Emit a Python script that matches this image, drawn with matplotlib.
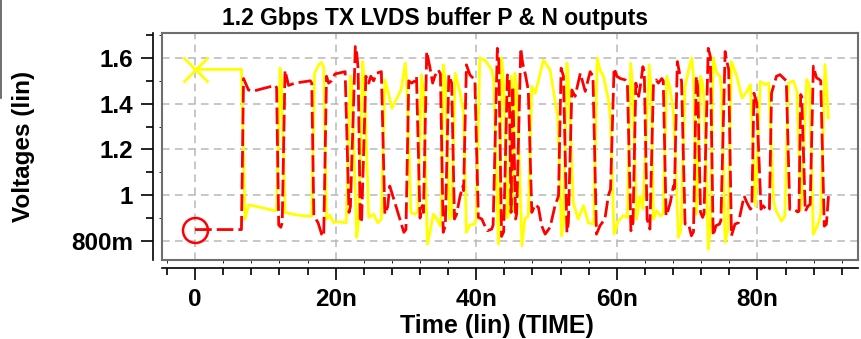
import matplotlib
matplotlib.use("Agg")
from matplotlib import pyplot as plt
from matplotlib.ticker import FixedLocator, MultipleLocator, FixedFormatter
from matplotlib.lines import Line2D

# red (dashed) trace: time in ns, voltage in V
red_t = [0.0, 6.6, 6.9, 7.6, 8.3, 9.5, 11.4, 11.6, 11.9, 12.2, 12.4, 12.8, 13.3, 14.2, 16.4, 16.6,
         16.9, 17.5, 18.0, 18.3, 18.7, 19.0, 19.4, 19.9, 21.35, 21.9, 22.1, 22.8, 23.0, 23.2, 23.5,
         23.7, 24.3, 24.7, 25.0, 25.4, 25.8, 26.5, 27.0, 27.4, 27.7, 28.4, 29.2, 29.7, 30.0, 30.4,
         30.8, 31.3, 31.5, 32.0, 32.3, 32.5, 32.95, 33.4, 33.8, 34.1, 34.6, 34.9, 35.3, 35.6, 36.1,
         36.5, 36.9, 37.2, 37.7, 38.1, 38.2, 38.6, 39.1, 39.8, 40.3, 40.8, 41.1, 41.6, 42.2, 42.4,
         43.0, 43.2, 43.6, 43.9, 44.43, 44.67, 44.95, 45.2, 45.6, 45.75, 46.33, 46.6, 47.0, 47.4,
         47.9, 48.4, 48.85, 49.3, 49.8, 50.5, 51.2, 51.7, 52.07, 52.4, 52.9, 53.1, 53.6, 54.06,
         54.8, 55.5, 56.2, 56.6, 57.1, 57.6, 58.3, 58.8, 59.1, 59.6, 60.0, 60.5, 61.2, 61.5, 62.0,
         62.3, 62.7, 63.1, 63.4, 63.7, 63.9, 64.3, 64.7, 65.2, 65.6, 65.9, 66.4, 66.6, 67.0, 67.2,
         67.6, 68.04, 68.2, 68.6, 69.0, 69.2, 69.7, 70.2, 70.6, 70.9, 71.3, 71.5, 71.9, 72.2, 72.4,
         73.0, 73.3, 73.7, 74.1, 74.6, 74.8, 75.4, 75.6, 75.9, 76.3, 76.8, 77.3, 77.7, 78.1, 78.5,
         79.0, 79.2, 79.5, 79.9, 80.5, 80.8, 81.4, 81.7, 82.0, 82.7, 83.2, 83.9, 84.1, 84.6, 85.3,
         85.7, 85.9, 86.15, 86.3, 86.8, 87.2, 87.5, 87.95, 88.4, 88.8, 89.0, 89.5, 89.8, 90.1]
red_v = [0.85, 0.85, 1.51, 1.46, 1.455, 1.465, 1.48, 1.47, 0.87, 0.86, 0.88, 1.545, 1.48, 1.49, 1.50, 1.49,
         0.91, 0.88, 0.83, 0.82, 1.52, 1.49, 1.50, 1.53, 1.54, 0.925, 0.95, 1.65, 1.62, 1.55, 0.88,
         0.895, 1.52, 1.49, 1.52, 1.50, 1.533, 1.54, 0.917, 0.95, 1.04, 0.97, 0.888, 0.838, 0.85, 1.50,
         1.49, 1.50, 1.52, 0.90, 0.954, 0.925, 1.628, 1.56, 1.49, 1.52, 1.548, 1.53, 0.838, 0.867, 1.526,
         1.49, 0.896, 0.917, 0.997, 1.04, 1.02, 1.57, 1.526, 1.504, 0.903, 0.896, 0.874, 0.845, 0.852, 0.87,
         1.642, 1.59, 0.82, 0.84, 1.526, 1.50, 0.925, 1.475, 0.896, 0.92, 1.642, 1.577, 1.526, 1.46,
         0.925, 0.96, 0.946, 0.867, 0.83, 0.86, 0.954, 0.997, 1.555, 1.52, 0.838, 0.88, 1.46, 1.432,
         1.533, 1.454, 1.54, 1.52, 0.83, 0.867, 0.896, 1.0, 1.026, 1.555, 1.52, 1.51, 1.504, 1.49, 0.845,
         0.88, 1.49, 1.432, 1.49, 1.562, 1.54, 0.896, 0.852, 1.48, 1.504, 1.49, 1.51, 1.50, 0.91, 0.925,
         0.968, 1.04, 1.03, 1.584, 1.52, 1.50, 0.874, 0.874, 0.823, 0.84, 1.52, 1.475, 0.925, 0.903, 0.92,
         1.642, 1.606, 0.823, 0.867, 0.874, 0.89, 1.628, 1.59, 1.55, 0.823, 0.874, 0.88, 0.939, 0.997, 0.968,
         0.939, 0.95, 1.446, 1.403, 0.939, 0.954, 0.932, 0.94, 1.446, 1.52, 1.527, 1.506, 1.50, 0.938, 0.938,
         0.927, 0.93, 1.44, 1.43, 0.93, 0.953, 0.96, 1.564, 1.513, 1.506, 1.50, 0.865, 0.873, 0.996]

# yellow (solid) trace
yel_t = [0.0, 6.6, 7.1, 7.6, 8.3, 11.4, 11.6, 12.1, 12.3, 12.8, 14.2, 16.4, 16.6, 17.0, 17.6, 18.0,
         18.3, 18.7, 19.2, 19.7, 20.2, 21.5, 22.1, 22.3, 23.0, 23.3, 23.85, 24.1, 24.7, 25.4, 26.0,
         26.5, 27.0, 27.5, 28.0, 28.6, 29.3, 29.9, 30.1, 30.7, 31.3, 31.7, 32.2, 32.5, 33.05, 33.4,
         33.9, 34.4, 34.85, 35.0, 35.3, 35.6, 36.2, 36.5, 37.0, 37.7, 38.2, 38.6, 39.1, 39.8, 40.0,
         40.5, 41.25, 41.7, 42.2, 42.5, 43.15, 43.3, 43.6, 43.9, 44.43, 44.7, 45.0, 45.2, 45.5, 45.8,
         46.5, 46.9, 47.4, 47.9, 48.4, 49.55, 50.5, 51.2, 51.6, 52.15, 52.4, 52.9, 53.2, 53.8, 54.5,
         55.25, 55.95, 56.7, 57.2, 57.6, 58.1, 58.8, 59.1, 59.6, 60.2, 60.9, 61.5, 61.97, 62.3, 62.8,
         63.3, 63.7, 64.6, 64.9, 65.2, 65.7, 66.2, 66.6, 67.1, 67.6, 68.04, 68.3, 68.75, 69.1, 69.7,
         70.2, 70.65, 70.9, 71.3, 71.9, 72.2, 72.45, 73.0, 73.3, 73.7, 74.2, 74.7, 74.9, 75.4, 75.8,
         76.3, 77.0, 77.8, 78.5, 79.0, 79.7, 80.4, 81.1, 81.6, 82.3, 82.7, 83.4, 83.9, 84.4, 85.1,
         85.6, 86.2, 87.0, 87.4, 87.95, 88.7, 89.0, 89.6, 90.1]
yel_v = [1.55, 1.55, 0.896, 0.957, 0.954, 0.932, 0.935, 1.555, 1.50, 0.925, 0.915, 0.907, 0.91, 1.533, 1.57, 1.58,
         1.56, 0.896, 0.913, 0.88, 0.884, 0.88, 1.52, 1.49, 0.816, 0.896, 1.584, 1.49, 0.903, 0.917, 0.88,
         0.896, 1.504, 1.446, 1.38, 1.417, 1.46, 1.577, 1.50, 0.925, 0.917, 0.93, 1.526, 1.45, 0.787, 0.838,
         0.917, 0.896, 0.867, 0.90, 1.57, 1.50, 0.896, 0.91, 1.533, 1.45, 1.36, 0.838, 0.87, 0.874, 0.90,
         1.60, 1.59, 1.57, 1.548, 1.50, 0.787, 0.85, 1.60, 1.50, 0.90, 0.92, 1.52, 0.93, 1.533, 1.45,
         0.78, 0.896, 0.91, 1.475, 1.446, 1.59, 1.548, 1.417, 1.34, 0.823, 0.88, 1.577, 1.45, 0.968, 0.896,
         0.954, 0.88, 0.874, 1.60, 1.548, 1.52, 1.417, 1.33, 0.83, 0.888, 0.91, 0.903, 1.577, 1.45, 0.896,
         0.997, 0.94, 1.57, 1.45, 0.896, 0.932, 0.91, 0.92, 1.52, 1.46, 1.36, 1.20, 0.816, 0.85, 1.475,
         1.548, 1.60, 1.52, 0.917, 1.52, 1.49, 1.40, 0.765, 0.85, 1.60, 1.533, 1.52, 1.45, 0.794, 0.85,
         1.584, 1.526, 1.425, 1.454, 1.483, 0.954, 1.497, 1.483, 1.49, 0.968, 0.93, 0.887, 0.91, 1.49, 1.50,
         1.455, 0.938, 1.506, 1.48, 0.83, 0.88, 0.92, 1.571, 1.338]

x_ticks = [0, 20, 40, 60, 80]
x_labels = ["0", "20n", "40n", "60n", "80n"]
y_ticks = [0.8, 1.0, 1.2, 1.4, 1.6]
y_labels = ["800m", "1", "1.2", "1.4", "1.6"]

plt.rcParams['font.family'] = ['Liberation Sans', 'DejaVu Sans']
plt.rcParams['font.weight'] = 'bold'

fig = plt.figure(figsize=(8.62, 3.39), dpi=100)
pos = [162/862, 1-260/339, (858-162)/862, (260-33)/339]
ax = fig.add_axes(pos)
ax.set_xlim(-4.7, 94.3)
ax.set_ylim(0.717, 1.709)

ax.plot(yel_t, yel_v, color='#ffff00', lw=2.0, zorder=3)
ax.plot(red_t, red_v, color='#ff0000', lw=2.0, dashes=(6, 1.8), zorder=4)
ax.plot(yel_t[0], yel_v[0], marker='x', ms=18, mew=2.0, color='#ffff00', zorder=5)
ax.plot(red_t[0], red_v[0], marker='o', ms=18, mew=1.8, mfc='none', mec='#ff0000', zorder=5)

ax.xaxis.set_major_locator(FixedLocator(x_ticks))
ax.yaxis.set_major_locator(FixedLocator(y_ticks))
ax.grid(True, color='#b8b8b8', lw=1.1, dashes=(5, 3.5))
ax.tick_params(length=0, labelbottom=False, labelleft=False)
for s in ax.spines.values():
    s.set_color('#6e6e6e')
    s.set_linewidth(1.5)

# outer axis lines with ticks, drawn on an overlay axes
ax2 = fig.add_axes(pos, sharex=ax, sharey=ax)
ax2.patch.set_visible(False)
ax2.spines['top'].set_visible(False)
ax2.spines['right'].set_visible(False)
ax2.spines['left'].set_position(('outward', 6.5))
ax2.spines['bottom'].set_position(('outward', 5.8))
ax2.spines['left'].set_linewidth(1.2)
ax2.spines['bottom'].set_linewidth(1.2)
ax2.xaxis.set_major_locator(FixedLocator(x_ticks))
ax2.xaxis.set_major_formatter(FixedFormatter(x_labels))
ax2.xaxis.set_minor_locator(MultipleLocator(4))
ax2.yaxis.set_major_locator(FixedLocator(y_ticks))
ax2.yaxis.set_major_formatter(FixedFormatter(y_labels))
ax2.yaxis.set_minor_locator(MultipleLocator(0.1))
ax2.tick_params(which='major', length=8.5, width=1.2, labelsize=17.5, pad=6)
ax2.tick_params(which='minor', length=5, width=1.2)
ax2.tick_params(axis='x', which='major', pad=6)

ax2.set_xlabel("Time (lin) (TIME)", fontsize=18, fontweight='bold')
ax2.xaxis.set_label_coords((497-162)/696, -(314-260)/227)
ax2.set_ylabel("Voltages (lin)", fontsize=17.5, fontweight='bold')
ax2.yaxis.set_label_coords(-(162-35)/696, 0.5)

fig.text(435/862, 1-18/339, "1.2 Gbps TX LVDS buffer P & N outputs", fontsize=16.5,
         fontweight='bold', ha='center', va='center')

# edge of a panel cut off at the left border
fig.add_artist(Line2D([1.5/862, 1.5/862], [1, 1-98/339], color='#555555', lw=1.2))

fig.savefig("out.png", dpi=100)
